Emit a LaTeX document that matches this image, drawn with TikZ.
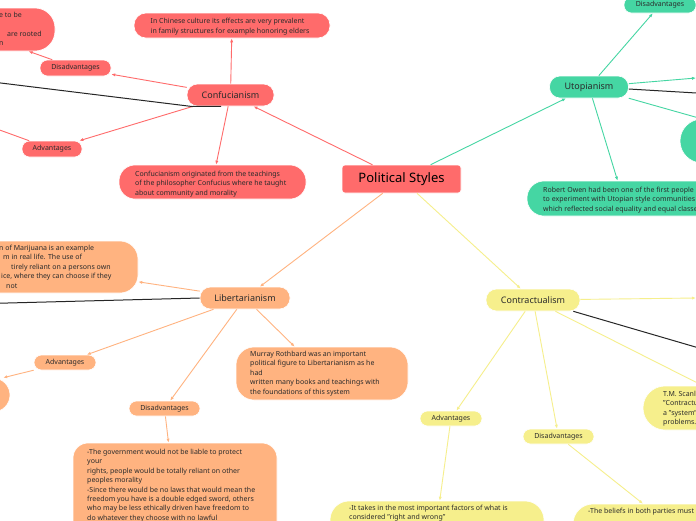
\documentclass[tikz,border=0pt]{standalone}
\usepackage{fontspec}
\setmainfont{Noto Sans}
\usetikzlibrary{arrows.meta}
\definecolor{cred}{HTML}{FF6B6B}
\definecolor{cgreen}{HTML}{45D6A3}
\definecolor{corange}{HTML}{FFB380}
\definecolor{cyellow}{HTML}{F6EF8C}
\definecolor{ctext}{HTML}{2B2B2B}
\begin{document}
\begin{tikzpicture}[x=1pt,y=-1pt,
  nb/.style={draw=white, line width=0.6pt, inner sep=0pt, text=ctext},
  smalltext/.style={font=\fontsize{7}{9.4}\selectfont},
  pillS/.style={nb, smalltext, minimum height=16pt, rounded corners=7.5pt},
  midp/.style={nb, font=\fontsize{9}{11}\selectfont, minimum height=22pt, rounded corners=10.5pt},
  txt/.style={inner sep=0pt, text=ctext, smalltext, align=left, anchor=base west},
  conn/.style={line width=0.9pt, -{Latex[length=4pt,width=3.2pt]}},
  rel/.style={line width=1pt, black!85},
]
\useasboundingbox (0,0) rectangle (696,520);
\fill[white] (0,0) rectangle (696,520);
\clip (0,0) rectangle (696,520);

% ---------- root
\node[nb, fill=cred, minimum width=119pt, minimum height=28pt, rounded corners=3pt,
      font=\fontsize{13}{15}\selectfont\bfseries, text=black] (root) at (401.5,179) {Political Styles};

% ---------- Confucianism  (text anchors: baseline of the LAST line)
\node[midp, fill=cred, minimum width=87pt] (conf) at (230.5,95) {Confucianism};
\node[nb, fill=cred, minimum width=196pt, minimum height=25pt, rounded corners=12pt] (confA) at (232,25.5) {};
\node[txt] (confAt) at (150.5,33) {In Chinese culture its effects are very prevalent\\in family structures for example honoring elders};
\node[nb, fill=cred, minimum width=187pt, minimum height=34pt, rounded corners=16pt] (confB) at (212.5,182) {};
\node[txt] (confBt) at (135,195) {Confucianism originated from the teachings\\of the philosopher Confucius where he taught\\about community and morality};
\node[pillS, fill=cred, minimum width=71pt] (confDis) at (75.5,68) {Disadvantages};
\node[nb, fill=cred, minimum width=175pt, minimum height=43pt, rounded corners=20pt] (confDisB) at (-32.5,29.5) {};
\node[txt] (confDisBt) at (-1,45.5) {e to be\\\mbox{}\\\hspace*{8pt}are rooted\\n};
\node[pillS, fill=cred, minimum width=60pt] (confAdv) at (52,149) {Advantages};
\coordinate (confAdvOut) at (-50,112);
\coordinate (confRelBend) at (192,106.5);
\coordinate (confRel) at (-40,78);

% ---------- Utopianism
\node[midp, fill=cgreen, minimum width=79pt] (utop) at (589,87) {Utopianism};
\node[pillS, fill=cgreen, minimum width=72pt] (utDis) at (660,5) {Disadvantages};
\node[nb, fill=cgreen, minimum width=120pt, minimum height=44pt, rounded corners=22pt] (utC) at (740,141) {};
\node[nb, fill=cgreen, minimum width=192pt, minimum height=35pt, rounded corners=17pt] (robert) at (623,198.5) {};
\node[txt] (robertt) at (543,211) {Robert Owen had been one of the first people\\to experiment with Utopian style communities\\which reflected social equality and equal classes};
\coordinate (utOut1) at (696,78);
\coordinate (utOut2) at (720,124);
\coordinate (utRel) at (730,95);

% ---------- Libertarianism
\node[midp, fill=corange, minimum width=90pt] (lib) at (245,298) {Libertarianism};
\node[nb, fill=corange, minimum width=196pt, minimum height=52pt, rounded corners=18pt] (libB) at (40,267) {};
\node[txt] (libBt) at (-1,288) {n of Marijuana is an example\\\hspace*{4pt}m in real life. The use of\\\hspace*{12pt}tirely reliant on a persons own\\\hspace*{2pt}ice, where they can choose if they\\\hspace*{7pt}not};
\coordinate (libRel) at (-50,304.5);
\node[pillS, fill=corange, minimum width=62pt, minimum height=15pt] (libAdv) at (65,362.5) {Advantages};
\node[nb, fill=corange, minimum width=154pt, minimum height=34pt, rounded corners=17pt] (libC) at (-67,395) {};
\node[pillS, fill=corange, minimum width=71pt, minimum height=15pt] (libDis) at (164.5,408.5) {Disadvantages};
\node[nb, fill=corange, minimum width=204pt, minimum height=110pt, rounded corners=15pt] (libDisB) at (175,498) {};
\node[txt] (libDisBt) at (87,529.7) {-The government would not be liable to protect\\your\\rights, people would be totally reliant on other\\peoples morality\\-Since there would be no laws that would mean the\\freedom you have is a double edged sword, others\\who may be less ethically driven have freedom to\\do whatever they choose with no lawful\\consequences};
\node[nb, fill=corange, minimum width=172pt, minimum height=53pt, rounded corners=18pt] (murray) at (322,373.5) {};
\node[txt] (murrayt) at (250,394) {Murray Rothbard was an important\\political figure to Libertarianism as he\\had\\written many books and teachings with\\the foundations of this system};

% ---------- Contractualism
\node[midp, fill=cyellow, minimum width=94pt] (con) at (533,300) {Contractualism};
\coordinate (conOut) at (696,298);
\coordinate (conRel) at (740,360);
\node[nb, fill=cyellow, minimum width=208pt, minimum height=44pt, rounded corners=22pt] (scan) at (747,408) {};
\node[txt] (scant) at (663,424.5) {T.M. Scanlon\\"Contractualism"\\a "system"\\problems.};
\node[pillS, fill=cyellow, minimum width=62pt, minimum height=15pt] (conAdv) at (451,418.5) {Advantages};
\node[nb, fill=cyellow, minimum width=214pt, minimum height=39pt, rounded corners=19pt] (conAdvB) at (437,520.5) {};
\node[txt] (conAdvBt) at (349,519.9) {-It takes in the most important factors of what is\\considered "right and wrong"};
\node[pillS, fill=cyellow, minimum width=71pt, minimum height=15pt] (conDis) at (558.5,436.5) {Disadvantages};
\node[nb, fill=cyellow, minimum width=206pt, minimum height=52pt, rounded corners=20pt] (conDisB) at (676,530) {};
\node[txt] (conDisBt) at (588,513) {-The beliefs in both parties must};

% ---------- connectors
\draw[conn, cred] (root) -- (conf);
\draw[conn, cred] (conf) -- (confA);
\draw[conn, cred] (conf) -- (confB);
\draw[conn, cred] (conf) -- (confDis);
\draw[conn, cred] (conf) -- (confAdv);
\draw[conn, cred] (confDis) -- (confDisB);
\draw[conn, cred] (confAdv) -- (confAdvOut);
\draw[rel] ([xshift=-9.5pt]conf.south) -- (confRelBend) -- (confRel);

\draw[conn, cgreen] (root) -- (utop);
\draw[conn, cgreen] (utop) -- (utDis);
\draw[conn, cgreen] (utop) -- (utOut1);
\draw[conn, cgreen] (utop) -- (utOut2);
\draw[conn, cgreen] (utop) -- (robert);
\draw[rel] ([yshift=-2pt]utop.east) -- (utRel);

\draw[conn, corange] (root) -- (lib);
\draw[conn, corange] (lib) -- (libB);
\draw[rel] (lib.west) -- (libRel);
\draw[conn, corange] (lib) -- (libAdv);
\draw[conn, corange] (libAdv) -- (libC);
\draw[conn, corange] (lib) -- (libDis);
\draw[conn, corange] (libDis) -- (libDisB);
\draw[conn, corange] (lib) -- (murray);

\draw[conn, cyellow] (root) -- (con);
\draw[conn, cyellow] (con) -- (conOut);
\draw[rel] ([xshift=-7pt]con.south east) -- (conRel);
\draw[conn, cyellow] (con) -- (scan);
\draw[conn, cyellow] (con) -- (conAdv);
\draw[conn, cyellow] (con) -- (conDis);
\draw[conn, cyellow] (conAdv) -- (conAdvB);
\draw[conn, cyellow] (conDis) -- (conDisB);
\end{tikzpicture}
\end{document}
